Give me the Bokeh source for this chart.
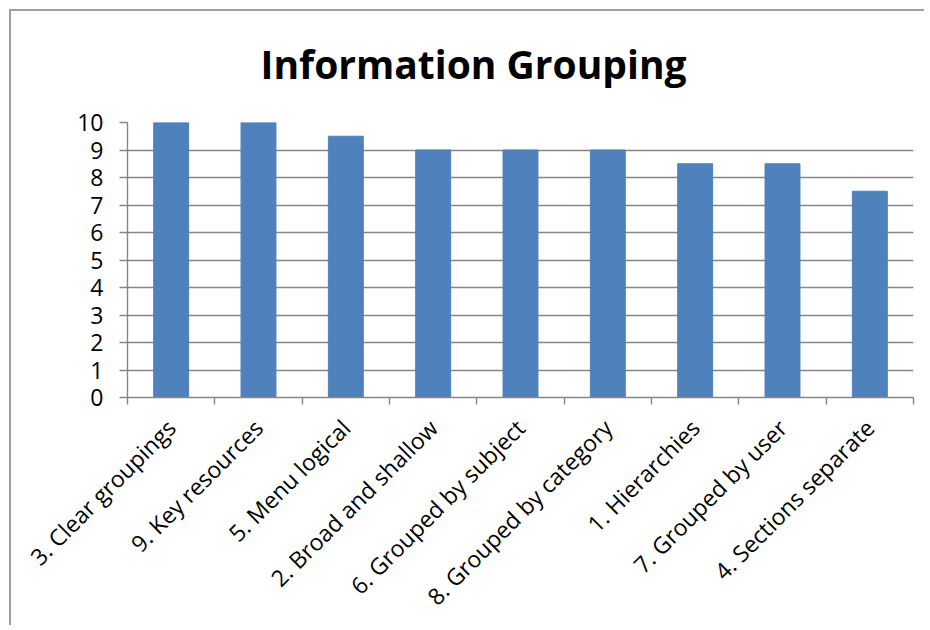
from bokeh.plotting import figure
from bokeh.models import Range1d, LinearAxis, FixedTicker, ColumnDataSource
from bokeh.embed import file_html
from bokeh.resources import INLINE
import math

categories = ["3. Clear groupings", "9. Key resources", "5. Menu logical", "2. Broad and shallow",
              "6. Grouped by subject", "8. Grouped by category", "1. Hierarchies",
              "7. Grouped by user", "4. Sections separate"]
values = [10, 10, 9.5, 9, 9, 9, 8.5, 8.5, 7.5]
y_ticks = list(range(0, 11))

FONT = "Open Sans"
GRID = "#868686"

n = len(categories)
centers = [i + 0.5 for i in range(n)]
source = ColumnDataSource(dict(x=centers, top=values, cat=categories))

p = figure(x_range=Range1d(0, n), y_range=Range1d(0, 10),
           width=924, height=625, output_backend="svg", toolbar_location=None,
           x_axis_location="below", y_axis_location="left",
           min_border_left=127, min_border_right=11, min_border_top=122, min_border_bottom=227)
p.styles = {"box-shadow": "inset 9px 9px 0 0 white, inset 11px 11px 0 0 #a0a0a0"}
p.border_fill_color = None
p.background_fill_color = "white"

p.vbar(x="x", top="top", width=0.4, source=source, fill_color="#4F81BD", line_color="#4F81BD")

p.title.text = "Information Grouping"
p.title.text_font = FONT
p.title.text_font_size = "39px"
p.title.text_font_style = "bold"
p.title.text_color = "black"
p.title.align = "left"
p.title.offset = 133
p.title.standoff = 66

p.xgrid.visible = False
p.ygrid.ticker = FixedTicker(ticks=y_ticks)
p.ygrid.grid_line_color = GRID
p.ygrid.grid_line_width = 1.4
p.outline_line_color = None

ya = p.yaxis[0]
ya.ticker = FixedTicker(ticks=y_ticks)
ya.axis_line_color = GRID
ya.axis_line_width = 1.4
ya.major_tick_line_color = GRID
ya.major_tick_line_width = 1.4
ya.major_tick_in = 0
ya.major_tick_out = 8
ya.minor_tick_line_color = None
ya.major_label_text_font = FONT
ya.major_label_text_font_size = "23px"
ya.major_label_text_color = "black"
ya.major_label_standoff = 16

# boundary ticks on the main x axis
xa = p.xaxis[0]
xa.ticker = FixedTicker(ticks=list(range(n + 1)))
xa.axis_line_color = GRID
xa.axis_line_width = 1.4
xa.major_tick_line_color = GRID
xa.major_tick_line_width = 1.4
xa.major_tick_in = 0
xa.major_tick_out = 7
xa.minor_tick_line_color = None
xa.major_label_text_font_size = "0px"
xa.major_label_standoff = 0

# category labels axis
cat_axis = LinearAxis(ticker=FixedTicker(ticks=centers),
                      major_label_overrides={c: lab for c, lab in zip(centers, categories)},
                      axis_line_color=None, major_tick_line_color=None, minor_tick_line_color=None,
                      major_label_orientation=math.pi / 4,
                      major_label_text_font=FONT, major_label_text_font_size="23px",
                      major_label_text_color="black", major_label_standoff=13)
p.add_layout(cat_axis, "below")

open("out.html", "w").write(file_html(p, INLINE))
